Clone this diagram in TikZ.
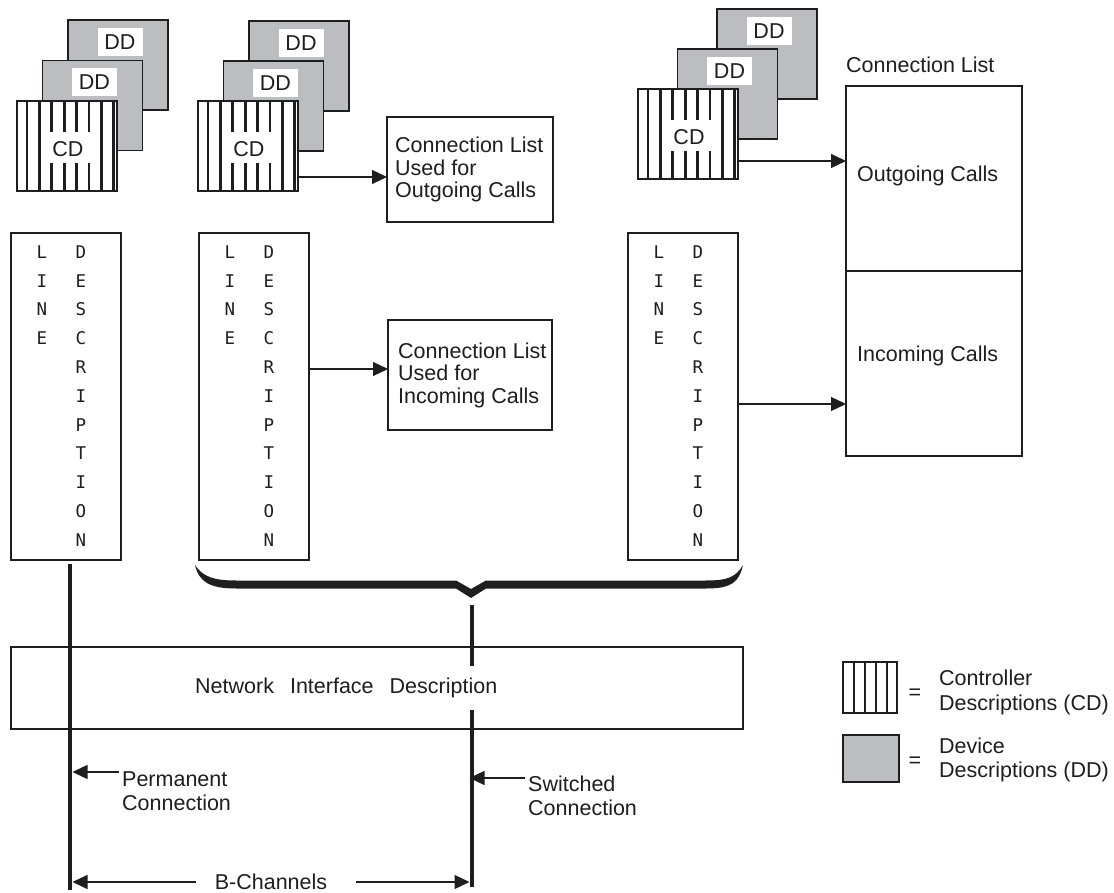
\documentclass[tikz,border=0pt]{standalone}
\usepackage{fontspec}
\setmainfont{Liberation Sans}
\newfontfamily\ldfont{DejaVu Sans Mono}
\usetikzlibrary{arrows.meta,calc}
\definecolor{ddgray}{RGB}{188,189,192}
\definecolor{ink}{RGB}{30,30,30}
\newcommand\drawstack[5]{%
  \node[ddbox] (#1b) at ({#2+2*(#4)},{#3+2*(#5)}) {};
  \node[ddlbl] (#1bl) at ({#2+2*(#4)+52},{#3+2*(#5)+22}) {DD};
  \node[ddbox] (#1m) at ({#2+(#4)},{#3+(#5)}) {};
  \node[ddlbl] (#1ml) at ({#2+(#4)+52},{#3+(#5)+22}) {DD};
  \node[cdbox] (#1c) at (#2,#3) {};
  \foreach \k in {0,1,6,7} \draw[stripe] ({#2+10+12.4*\k},#3) -- ({#2+10+12.4*\k},{#3+90});
  \foreach \k in {2,...,5} {\draw[stripe] ({#2+10+12.4*\k},#3) -- ({#2+10+12.4*\k},{#3+31});
    \draw[stripe] ({#2+10+12.4*\k},{#3+62}) -- ({#2+10+12.4*\k},{#3+90});}
  \node[lbl] (#1cl) at ({#2+51},{#3+48}) {CD};
  \draw[line width=1.8pt, ink] (#1c.north west) rectangle (#1c.south east);
}
\begin{document}
\begin{tikzpicture}[x=1pt,y=-1pt,
  lbl/.style={font=\fontsize{21.5}{22.5}\selectfont, inner sep=0, text=ink},
  box/.style={draw=ink, line width=1.4pt, fill=white, anchor=north west, inner sep=0, outer sep=0},
  ddbox/.style={draw=ink, line width=1.8pt, fill=ddgray, anchor=north west, minimum width=100pt, minimum height=90pt, inner sep=0, outer sep=0},
  cdbox/.style={ddbox, fill=white},
  ddlbl/.style={lbl, fill=white, minimum width=45pt, minimum height=28pt},
  stripe/.style={line width=2.7pt, draw=ink},
  ldl/.style={font=\ldfont\fontsize{17.5}{17.5}\selectfont, inner sep=0, anchor=base, text=ink},
  arr/.style={-{Triangle[length=15pt,width=14pt]}, line width=1.2pt, draw=ink},
  bus/.style={line width=4.9pt, draw=ink},
]
\useasboundingbox (0,0) rectangle (1114,893);
\fill[white] (0,0) rectangle (1114,893);

% stacks of descriptions
\drawstack{s1}{17}{101}{25.5}{-40.5}
\drawstack{s2}{198}{101}{25.5}{-40}
\drawstack{s3}{638}{89}{39.5}{-40}

% line descriptions
\foreach \n/\x in {1/11, 2/199, 3/628} {
  \node[box, minimum width=110pt, minimum height=327pt] (ld\n) at (\x,233) {};
  \foreach \c [count=\j] in {L,I,N,E}
    \node[ldl] (ld\n-l\j) at ({\x+31},{252+28.8*(\j-1)+6.3}) {\c};
  \foreach \c [count=\j] in {D,E,S,C,R,I,P,T,I,O,N}
    \node[ldl] (ld\n-d\j) at ({\x+70},{252+28.8*(\j-1)+6.3}) {\c};
}

% connection list boxes
\node[box, minimum width=166pt, minimum height=105pt] (outbox) at (387,117) {};
\node[lbl, align=left, anchor=west] (outtxt) at ($(outbox.west)+(8,0)$) {Connection List\\Used for\\Outgoing Calls};
\node[box, minimum width=164pt, minimum height=110pt] (inbox) at (388,320) {};
\node[lbl, align=left, anchor=west] (intxt) at ($(inbox.west)+(10,0)$) {Connection List\\Used for\\Incoming Calls};

\node[lbl, anchor=west] (cllbl) at (846,65) {Connection List};
\node[box, minimum width=176pt, minimum height=185pt] (clout) at (846,86) {};
\node[box, minimum width=176pt, minimum height=185pt] (clin) at (846,271) {};
\node[lbl, anchor=west] (clouttxt) at (857,176) {Outgoing Calls};
\node[lbl, anchor=west] (clintxt) at (857,356) {Incoming Calls};

% arrows
\draw[arr] (s2c.east |- 0,177) -- (outbox.west |- 0,177);
\draw[arr] (s3c.east |- 0,161) -- (clout.west |- 0,161);
\draw[arr] (ld2.east |- 0,369) -- (inbox.west |- 0,369);
\draw[arr] (ld3.east |- 0,404) -- (clin.west |- 0,404);

% brace
\fill[ink] (195,565) .. controls (199,582) and (210,588.5) .. (236,588.5) -- (456,588.5) -- (471,598) -- (486,588.5) -- (706,588.5)
  .. controls (732,588.5) and (739,582) .. (743,565)
  .. controls (736,577) and (728,580.5) .. (706,580.5) -- (486,580.5) -- (471,589) -- (456,580.5) -- (236,580.5)
  .. controls (214,580.5) and (203,577) .. (195,565) -- cycle;

% network interface description
\node[box, minimum width=732pt, minimum height=82pt] (nid) at (11,647) {};
\node[lbl, anchor=west] (nidtxt) at (195,688) {Network\hspace{16pt}Interface\hspace{16pt}Description};

% B-channels
\coordinate (bL1) at (70,564);
\coordinate (bL2) at (70,890);
\coordinate (bM1) at (472,605);
\coordinate (bM2) at (472,666);
\coordinate (bM3) at (472,710);
\coordinate (bM4) at (472,887);
\draw[bus] (bL1) -- (bL2);
\draw[bus] (bM1) -- (bM2);
\draw[bus] (bM3) -- (bM4);

\node[lbl, anchor=base west] (permA) at (122,786) {Permanent};
\node[lbl, anchor=base west] (permB) at (122,810) {Connection};
\coordinate (pt) at (119,772);
\draw[arr] (pt) -- ([xshift=2.5pt]bL1 |- pt);

\node[lbl, anchor=base west] (swA) at (528,791) {Switched};
\node[lbl, anchor=base west] (swB) at (528,815) {Connection};
\coordinate (st) at (525,778);
\draw[arr] (st) -- ([xshift=-2.5pt]bM3 |- st);

\node[lbl] (bch) at (271,882) {B-Channels};
\coordinate (bt1) at (196,882);
\coordinate (bt2) at (356,882);
\draw[arr] (bt1) -- ([xshift=2.5pt]bL1 |- bt1);
\draw[arr] (bt2) -- ([xshift=-2.5pt]bM3 |- bt2);

% legend
\node[box, minimum width=54pt, minimum height=51pt] (legcd) at (843,662) {};
\foreach \k in {11,22,33,44} \draw[stripe] ({843+\k},662) -- ({843+\k},713);
\draw[line width=1.8pt, ink] (legcd.north west) rectangle (legcd.south east);
\node[lbl] (eq1) at (915,694) {=};
\node[lbl, anchor=base west] (legcdA) at (939,685) {Controller};
\node[lbl, anchor=base west] (legcdB) at (939,710) {Descriptions (CD)};

\node[box, fill=ddgray, line width=1.8pt, minimum width=56pt, minimum height=47pt] (legdd) at (843,735) {};
\node[lbl] (eq2) at (915,762) {=};
\node[lbl, anchor=base west] (legddA) at (939,753) {Device};
\node[lbl, anchor=base west] (legddB) at (939,777) {Descriptions (DD)};
\end{tikzpicture}
\end{document}
